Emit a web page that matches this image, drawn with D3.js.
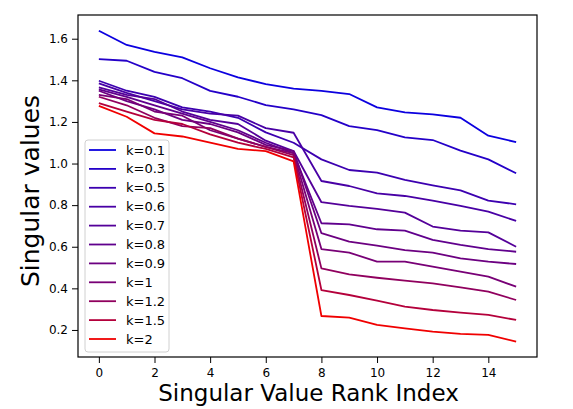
<!DOCTYPE html>
<html>
<head>
<meta charset="utf-8">
<script src="https://cdn.jsdelivr.net/npm/d3@7"></script>
<style>
  body { margin: 0; background: #fff; }
  text { font-family: "DejaVu Sans", sans-serif; fill: #000; }
</style>
</head>
<body>
<div id="chart"></div>
<script>
// chart data
var ranks = d3.range(0, 16);
var kLabels = ["k=0.1", "k=0.3", "k=0.5", "k=0.6", "k=0.7", "k=0.8", "k=0.9", "k=1", "k=1.2", "k=1.5", "k=2"];
var kValues = [0.1, 0.3, 0.5, 0.6, 0.7, 0.8, 0.9, 1, 1.2, 1.5, 2];

var k01 = [1.638, 1.570, 1.537, 1.510, 1.458, 1.414, 1.382, 1.360, 1.349, 1.334, 1.270, 1.246, 1.236, 1.220, 1.134, 1.103];
var k03 = [1.502, 1.494, 1.441, 1.410, 1.349, 1.321, 1.281, 1.260, 1.233, 1.180, 1.161, 1.126, 1.113, 1.062, 1.020, 0.953];
var k05 = [1.398, 1.350, 1.320, 1.270, 1.250, 1.220, 1.150, 1.100, 1.020, 0.969, 0.956, 0.921, 0.895, 0.871, 0.822, 0.804];
var k06 = [1.385, 1.340, 1.300, 1.260, 1.240, 1.230, 1.170, 1.148, 0.916, 0.892, 0.857, 0.844, 0.822, 0.796, 0.769, 0.724];
var k07 = [1.366, 1.330, 1.310, 1.250, 1.210, 1.190, 1.110, 1.060, 0.814, 0.796, 0.782, 0.764, 0.697, 0.677, 0.669, 0.600];
var k08 = [1.357, 1.320, 1.280, 1.240, 1.200, 1.160, 1.100, 1.050, 0.713, 0.708, 0.684, 0.677, 0.633, 0.609, 0.589, 0.576];
var k09 = [1.350, 1.300, 1.260, 1.210, 1.190, 1.150, 1.090, 1.060, 0.665, 0.625, 0.605, 0.584, 0.572, 0.544, 0.528, 0.517];
var k1  = [1.330, 1.310, 1.250, 1.230, 1.160, 1.120, 1.080, 1.050, 0.589, 0.572, 0.528, 0.528, 0.504, 0.480, 0.456, 0.408];
var k12 = [1.321, 1.280, 1.220, 1.180, 1.170, 1.120, 1.080, 1.040, 0.496, 0.467, 0.451, 0.437, 0.424, 0.405, 0.384, 0.344];
var k15 = [1.290, 1.250, 1.210, 1.190, 1.140, 1.100, 1.070, 1.030, 0.392, 0.368, 0.341, 0.312, 0.296, 0.283, 0.272, 0.248];
var k2  = [1.277, 1.225, 1.145, 1.130, 1.100, 1.070, 1.060, 1.010, 0.267, 0.259, 0.224, 0.208, 0.192, 0.181, 0.176, 0.144];

var xTicks = [0, 2, 4, 6, 8, 10, 12, 14];
var yTicks = [0.2, 0.4, 0.6, 0.8, 1.0, 1.2, 1.4, 1.6];

var seriesValues = [k01, k03, k05, k06, k07, k08, k09, k1, k12, k15, k2];

// Step 1: set up the chart
var svgWidth = 573;
var svgHeight = 409;

var margin = { top: 15, right: 36, bottom: 52, left: 78 };
var width = svgWidth - margin.left - margin.right;
var height = svgHeight - margin.top - margin.bottom;

var svg = d3.select("#chart")
            .append("svg")
            .attr("width", svgWidth)
            .attr("height", svgHeight);

var chartGroup = svg.append("g")
                    .attr("transform", `translate(${margin.left}, ${margin.top})`);

// Step 2: scales
var xScale = d3.scaleLinear()
               .domain([-0.75, 15.75])
               .range([0, width]);

var yScale = d3.scaleLinear()
               .domain([0.07, 1.714])
               .range([height, 0]);

// colour goes from blue to red with k
var colour = function(k) {
    return d3.rgb(Math.round(240 * k / 2), 0, Math.round(235 * (1 - k / 2))).toString();
};

// Step 3: lines
var line = d3.line()
             .x((d, i) => xScale(ranks[i]))
             .y(d => yScale(d));

var series = seriesValues.map((vals, i) => ({ label: kLabels[i], k: kValues[i], values: vals }));

chartGroup.selectAll(".series")
          .data(series)
          .enter()
          .append("path")
          .attr("class", "series")
          .attr("d", d => line(d.values))
          .attr("fill", "none")
          .attr("stroke", d => colour(d.k))
          .attr("stroke-width", 1.8)
          .attr("stroke-linejoin", "round");

// Step 4: axes
var bottomAxis = d3.axisBottom(xScale).tickValues(xTicks).tickSize(6).tickPadding(5).tickFormat(d3.format("d"));
var leftAxis = d3.axisLeft(yScale).tickValues(yTicks).tickSize(6).tickPadding(4).tickFormat(d3.format(".1f"));

var xg = chartGroup.append("g")
          .attr("transform", `translate(0, ${height})`)
          .call(bottomAxis);
var yg = chartGroup.append("g")
          .call(leftAxis);

[xg, yg].forEach(function(g) {
    g.select(".domain").remove();
    g.selectAll("text").style("font-size", "12px").style("font-family", "DejaVu Sans");
    g.selectAll("line").attr("stroke", "#000").attr("stroke-width", 1);
});

// frame
chartGroup.append("rect")
          .attr("x", 0)
          .attr("y", 0)
          .attr("width", width)
          .attr("height", height)
          .attr("fill", "none")
          .attr("stroke", "#000")
          .attr("stroke-width", 1.2);

// Step 5: legend
var legend = chartGroup.append("g")
                       .attr("transform", "translate(7, 125)");

legend.append("rect")
      .attr("width", 84)
      .attr("height", 212)
      .attr("rx", 3)
      .attr("fill", "#fff")
      .attr("fill-opacity", 0.8)
      .attr("stroke", "#d0d0d0")
      .attr("stroke-width", 1);

var entries = legend.selectAll(".entry")
                    .data(series)
                    .enter()
                    .append("g")
                    .attr("class", "entry")
                    .attr("transform", (d, i) => `translate(0, ${10 + i * 18.9})`);

entries.append("line")
       .attr("x1", 4)
       .attr("x2", 31)
       .attr("stroke", d => colour(d.k))
       .attr("stroke-width", 1.8);

entries.append("text")
       .attr("x", 41)
       .attr("dy", "0.35em")
       .style("font-size", "13px")
       .text(d => d.label);

// Step 6: axis labels
chartGroup.append("text")
          .attr("transform", "rotate(-90)")
          .attr("x", 0 - (height / 2) - 5)
          .attr("y", 0 - margin.left + 39)
          .attr("text-anchor", "middle")
          .style("font-size", "25px")
          .text("Singular values");

chartGroup.append("text")
          .attr("x", width / 2 + 1)
          .attr("y", height + 44)
          .attr("text-anchor", "middle")
          .style("font-size", "23px")
          .text("Singular Value Rank Index");
</script>
</body>
</html>
